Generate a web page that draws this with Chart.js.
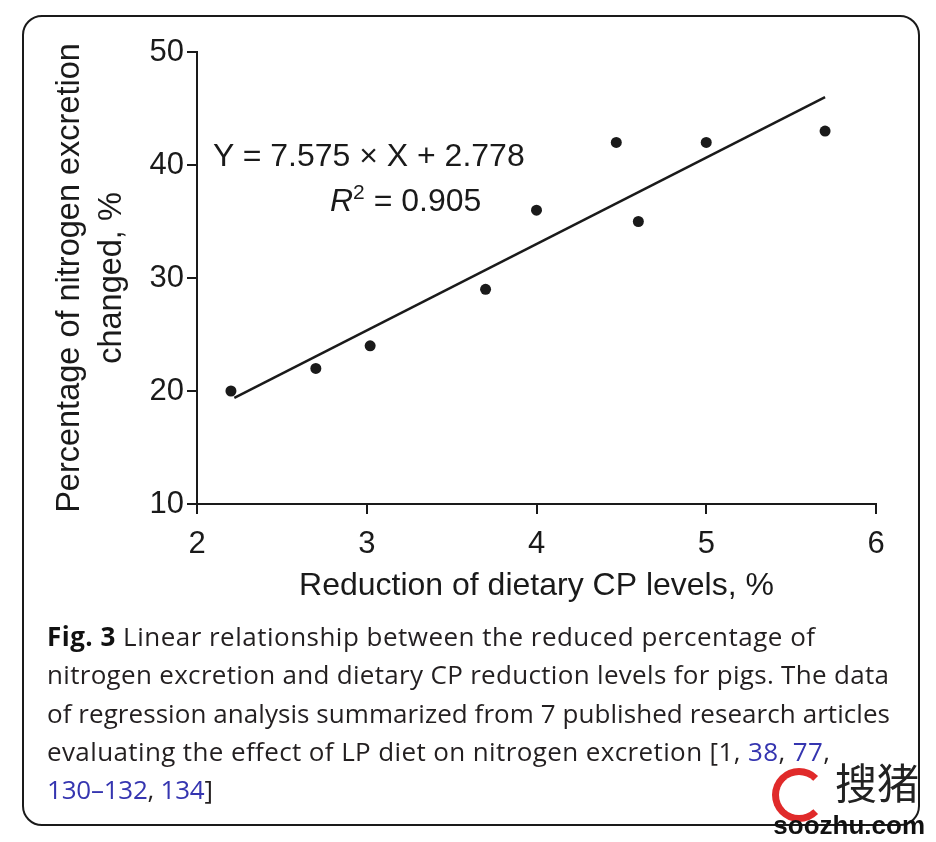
<!DOCTYPE html>
<html>
<head>
<meta charset="utf-8">
<script src="https://cdn.jsdelivr.net/npm/chart.js@4.4.0/dist/chart.umd.min.js"></script>
<style>
body { margin: 0; background: #fff; width: 936px; height: 842px; overflow: hidden; position: relative; font-family: "Liberation Sans", Arial, sans-serif; }
#frame { position: absolute; left: 22px; top: 15px; width: 898px; height: 811px; border: 2.5px solid #1a1a1a; border-radius: 20px; box-sizing: border-box; }
#wrap { position: absolute; left: 0; top: 0; width: 936px; height: 620px; }
.eq { position: absolute; font-size: 32px; color: #1a1a1a; white-space: nowrap; line-height: 1; }
#caption { position: absolute; left: 47px; top: 617px; font-family: "Open Sans", sans-serif; font-size: 26px; line-height: 38.3px; color: #231f20; white-space: nowrap; font-variant-ligatures: none; }
#caption div { display: table; }
#caption b { color: #111; }
.ref { color: #3535b0; }
#mark { position: absolute; right: 11px; top: 812px; font-size: 26px; font-weight: bold; color: #111; line-height: 1; }
#ring { position: absolute; left: 772px; top: 768px; width: 40px; height: 40px; border: 7px solid #e02a2a; border-radius: 50%; border-right-color: transparent; }
#zhu { position: absolute; left: 835px; top: 760px; font-family: "Noto Sans CJK SC"; font-size: 42px; color: #222; line-height: 1; }
</style>
</head>
<body>
<div id="frame"></div>
<div id="wrap"><canvas id="fig"></canvas></div>
<div class="eq" style="left:213px;top:139px">Y = 7.575 × X + 2.778</div>
<div class="eq" style="left:330px;top:181px"><i>R</i><sup style="font-size:21px;vertical-align:12px">2</sup> = 0.905</div>
<div id="caption">
<div data-w="768"><b>Fig. 3</b> Linear relationship between the reduced percentage of</div>
<div data-w="842">nitrogen excretion and dietary CP reduction levels for pigs. The data</div>
<div data-w="843">of regression analysis summarized from 7 published research articles</div>
<div data-w="783">evaluating the effect of LP diet on nitrogen excretion [1, <span class="ref">38</span>, <span class="ref">77</span>,</div>
<div data-w="166"><span class="ref">130–132</span>, <span class="ref">134</span>]</div>
</div>
<div id="ring"></div>
<div id="zhu">搜猪</div>
<div id="mark">soozhu.com</div>
<script>
// puntos
const pointX = [2.2, 2.7, 3.02, 3.7, 4.0, 4.47, 4.6, 5.0, 5.7];
const pointY = [20, 22, 24, 29, 36, 42, 35, 42, 43];
// recta de regresión (extremos)
const fitX = [2.22, 5.7];
const fitY = [19.4, 46.0];

const xTitle = 'Reduction of dietary CP levels, %';
const yTitle = ['Percentage of nitrogen excretion', 'changed, %'];

const ink = '#1a1a1a';
const font = 'Liberation Sans';

// ajustar el ancho de cada línea del pie de figura
document.querySelectorAll('#caption div').forEach(function(line) {
    let target = parseFloat(line.dataset.w);
    let n = line.textContent.length;
    let w = line.getBoundingClientRect().width;
    line.style.letterSpacing = ((target - w) / (n - 1)) + 'px';
});

let points = pointX.map((x, i) => ({x: x, y: pointY[i]}));
let fit = fitX.map((x, i) => ({x: x, y: fitY[i]}));

let ctx = document.getElementById('fig').getContext('2d');
new Chart(ctx, {
    type: 'scatter',
    data: {
        datasets: [
            {
                data: fit,
                showLine: true,
                borderColor: ink,
                borderWidth: 2.5,
                pointRadius: 0
            },
            {
                data: points,
                backgroundColor: ink,
                borderWidth: 0,
                pointRadius: 5.5
            }
        ]
    },
    options: {
        responsive: true,
        maintainAspectRatio: false,
        animation: false,
        layout: { padding: { left: 40, right: 60, top: 52, bottom: 0 } },
        plugins: { legend: { display: false }, tooltip: { enabled: false } },
        scales: {
            x: {
                type: 'linear',
                min: 2, max: 6,
                ticks: { stepSize: 1, color: ink, padding: 12, font: { family: font, size: 31 } },
                grid: { drawOnChartArea: false, drawTicks: true, tickLength: 10, color: ink, lineWidth: 2 },
                border: { display: true, color: ink, width: 2 },
                title: { display: true, text: xTitle, color: ink, padding: { top: 0, bottom: 15 }, font: { family: font, size: 32, lineHeight: 1.2 } },
                afterFit: function(scale) {
                    scale.height = 116;
                    scale.paddingLeft = 0;
                    scale.paddingRight = 0;
                }
            },
            y: {
                type: 'linear',
                min: 10, max: 50,
                ticks: { stepSize: 10, color: ink, padding: 3, font: { family: font, size: 31 } },
                grid: { drawOnChartArea: false, drawTicks: true, tickLength: 10, color: ink, lineWidth: 2 },
                border: { display: true, color: ink, width: 2 },
                title: { display: true, text: yTitle, color: ink, padding: { top: 9, bottom: 0 }, font: { family: font, size: 32.5, lineHeight: 1.3 } },
                afterFit: function(scale) {
                    scale.width = 157;
                    scale.paddingTop = 0;
                    scale.paddingBottom = 0;
                }
            }
        }
    }
});
</script>
</body>
</html>
